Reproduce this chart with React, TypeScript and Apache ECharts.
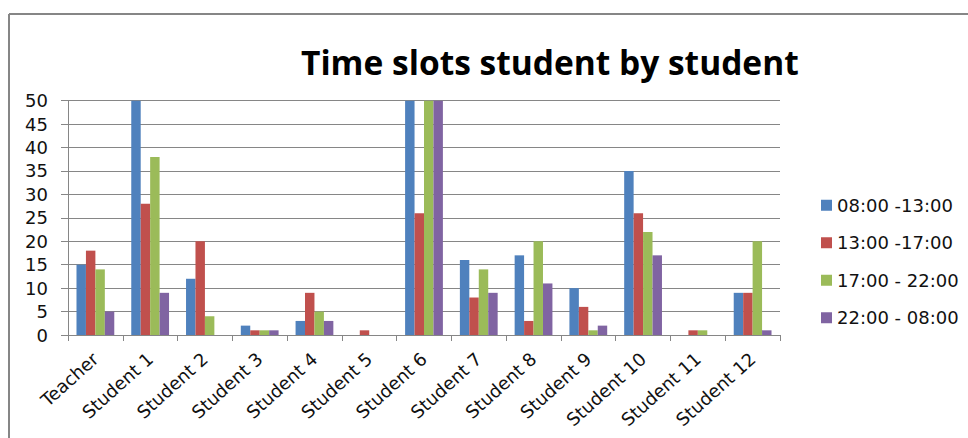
import React, { useEffect, useRef } from "react";
import * as echarts from "echarts";

const categories = [
  "Teacher", "Student 1", "Student 2", "Student 3", "Student 4", "Student 5",
  "Student 6", "Student 7", "Student 8", "Student 9", "Student 10", "Student 11", "Student 12",
];
const seriesNames = ["08:00 -13:00", "13:00 -17:00", "17:00 - 22:00", "22:00 - 08:00"];
const slot1 = [15, 50, 12, 2, 3, 0, 50, 16, 17, 10, 35, 0, 9];
const slot2 = [18, 28, 20, 1, 9, 1, 26, 8, 3, 6, 26, 1, 9];
const slot3 = [14, 38, 4, 1, 5, 0, 50, 14, 20, 1, 22, 1, 20];
const slot4 = [5, 9, 0, 1, 3, 0, 50, 9, 11, 2, 17, 0, 1];
const colors = ["#4F81BD", "#C0504D", "#9BBB59", "#8064A2"];

export default function App() {
  const ref = useRef<HTMLDivElement>(null);
  useEffect(() => {
    if (!ref.current) return;
    const chart = echarts.init(ref.current, undefined, { renderer: "svg" });
    const data = [slot1, slot2, slot3, slot4];
    chart.setOption({
      animation: false,
      backgroundColor: "#ffffff",
      title: {
        text: "Time slots student by student",
        left: 296,
        top: 40,
        textStyle: { fontFamily: "Open Sans", fontWeight: "bold", fontSize: 33.5, color: "#000" },
      },
      legend: {
        orient: "vertical",
        left: 816,
        top: 190,
        itemWidth: 11,
        itemHeight: 11,
        itemGap: 17,
        itemStyle: { borderWidth: 0 },
        icon: "rect",
        textStyle: { fontFamily: "DejaVu Sans", fontSize: 18, color: "#111", lineHeight: 20.5 },
        data: seriesNames,
      },
      grid: { left: 68, right: 188, top: 100.7, bottom: 103, containLabel: false },
      xAxis: {
        type: "category",
        data: categories,
        axisLine: { show: true, lineStyle: { color: "#868686", width: 1 } },
        axisTick: { show: true, length: 6, lineStyle: { color: "#868686" } },
        axisLabel: {
          rotate: 42,
          interval: 0,
          margin: 21,
          fontFamily: "DejaVu Sans",
          fontSize: 18,
          color: "#111",
        },
      },
      yAxis: {
        type: "value",
        min: 0,
        max: 50,
        interval: 5,
        axisLine: { show: true, lineStyle: { color: "#868686", width: 1 } },
        axisTick: { show: true, length: 7, lineStyle: { color: "#868686" } },
        splitLine: { show: true, lineStyle: { color: "#868686", width: 1 } },
        axisLabel: { margin: 20, fontFamily: "DejaVu Sans", fontSize: 18, color: "#111" },
      },
      series: data.map((d, i) => ({
        name: seriesNames[i],
        type: "bar",
        data: d,
        barGap: "0%",
        barCategoryGap: "31%",
        itemStyle: { color: colors[i] },
      })),
      graphic: [
        { type: "line", shape: { x1: 9, y1: 14, x2: 968, y2: 14 }, style: { stroke: "#868686", lineWidth: 2 } },
        { type: "line", shape: { x1: 9, y1: 14, x2: 9, y2: 438 }, style: { stroke: "#868686", lineWidth: 2 } },
      ],
    });
    return () => chart.dispose();
  }, []);
  return (
    <div
      ref={ref}
      style={{ position: "fixed", left: 0, top: 0, width: 968, height: 438 }}
    />
  );
}
